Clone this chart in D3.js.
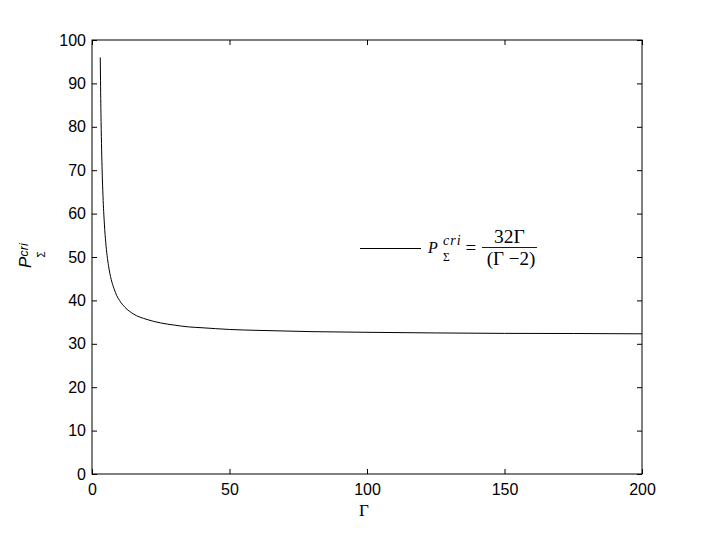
<!DOCTYPE html>
<html>
<head>
<meta charset="utf-8">
<script src="https://d3js.org/d3.v7.min.js"></script>
<style>
body{margin:0;background:#fff;}
svg{display:block;}
</style>
</head>
<body>
<svg id="chart" width="708" height="533"></svg>
<script>
// Data
const gammaValues = [3, 3.1, 3.2, 3.3, 3.4, 3.5, 3.7, 4, 4.5, 5, 5.5, 6, 7, 8, 9, 10, 12, 15, 20, 25, 30, 35, 40, 50, 60, 80, 100, 125, 150, 175, 200];
const pValues =     [96, 90.6, 85.3, 81.2, 77.7, 74.7, 69.6, 64, 57.6, 53.3, 50.3, 48, 44.8, 42.7, 41.1, 40, 38.4, 36.9, 35.6, 34.8, 34.3, 33.9, 33.7, 33.3, 33.1, 32.8, 32.65, 32.5, 32.4, 32.37, 32.3];
const xTicks = [0, 50, 100, 150, 200];
const yTicks = [0, 10, 20, 30, 40, 50, 60, 70, 80, 90, 100];

const svg = d3.select("#chart");
const L = 92, R = 642, T = 40, B = 474;
const x = d3.scaleLinear().domain([0, 200]).range([L, R]);
const y = d3.scaleLinear().domain([0, 100]).range([B, T]);
const font = "'Liberation Sans', Arial, Helvetica, sans-serif";
const serif = "'Liberation Serif', 'Times New Roman', serif";

svg.append("rect").attr("x", 0).attr("y", 0).attr("width", 708).attr("height", 533).attr("fill", "#fff");

function styleAxis(g, showLabels) {
  g.select(".domain").remove();
  g.selectAll(".tick line").attr("stroke", "#000").attr("stroke-width", 1);
  g.selectAll(".tick text").attr("font-family", font).attr("font-size", 16).attr("fill", "#000");
  if (!showLabels) g.selectAll(".tick text").remove();
}

svg.append("g").attr("transform", `translate(0,${B})`)
  .call(d3.axisBottom(x).tickValues(xTicks).tickSizeInner(-5).tickSizeOuter(0).tickPadding(10))
  .call(g => styleAxis(g, true));
svg.append("g").attr("transform", `translate(0,${T})`)
  .call(d3.axisTop(x).tickValues(xTicks).tickSizeInner(-5).tickSizeOuter(0))
  .call(g => styleAxis(g, false));
svg.append("g").attr("transform", `translate(${L},0)`)
  .call(d3.axisLeft(y).tickValues(yTicks).tickSizeInner(-5).tickSizeOuter(0).tickPadding(6))
  .call(g => styleAxis(g, true));
svg.append("g").attr("transform", `translate(${R},0)`)
  .call(d3.axisRight(y).tickValues(yTicks).tickSizeInner(-5).tickSizeOuter(0))
  .call(g => styleAxis(g, false));

svg.append("rect").attr("x", L).attr("y", T).attr("width", R - L).attr("height", B - T)
  .attr("fill", "none").attr("stroke", "#000").attr("stroke-width", 1);

const pts = gammaValues.map((g, i) => [g, pValues[i]]);
const line = d3.line().x(d => x(d[0])).y(d => y(d[1])).curve(d3.curveMonotoneX);
svg.append("path").datum(pts).attr("d", line).attr("fill", "none").attr("stroke", "#000").attr("stroke-width", 1);

// X label
svg.append("text").attr("x", 364).attr("y", 516).attr("text-anchor", "middle")
  .attr("font-family", serif).attr("font-size", 17).text("Γ");

// Y label
const yl = svg.append("g").attr("transform", "translate(31,268) rotate(-90)");
yl.append("text").attr("x", 0).attr("y", 0).attr("font-family", font).attr("font-style", "italic").attr("font-size", 17).text("P");
yl.append("text").attr("x", 11.5).attr("y", -3).attr("font-family", font).attr("font-style", "italic").attr("font-size", 12.5).text("cri");
yl.append("text").attr("x", 10.5).attr("y", 14).attr("font-family", font).attr("font-size", 10).text("Σ");

// Legend
svg.append("line").attr("x1", 360).attr("x2", 421).attr("y1", 248.5).attr("y2", 248.5).attr("stroke", "#000").attr("stroke-width", 1);
const lg = svg.append("g").attr("font-family", serif).attr("fill", "#000");
lg.append("text").attr("x", 428).attr("y", 253).attr("font-size", 16).attr("font-style", "italic").text("P");
lg.append("text").attr("x", 443).attr("y", 245).attr("font-size", 14).attr("font-style", "italic").attr("letter-spacing", 1).text("cri");
lg.append("text").attr("x", 443).attr("y", 260.5).attr("font-size", 11.5).text("Σ");
lg.append("text").attr("x", 465.5).attr("y", 254).attr("font-size", 19).text("=");
lg.append("line").attr("x1", 482).attr("x2", 537).attr("y1", 247.5).attr("y2", 247.5).attr("stroke", "#000").attr("stroke-width", 0.9);
lg.append("text").attr("x", 509.5).attr("y", 242.5).attr("font-size", 19.5).attr("text-anchor", "middle").text("32Γ");
lg.append("text").attr("x", 511).attr("y", 265).attr("font-size", 19).attr("text-anchor", "middle").text("(Γ −2)");
</script>
</body>
</html>
